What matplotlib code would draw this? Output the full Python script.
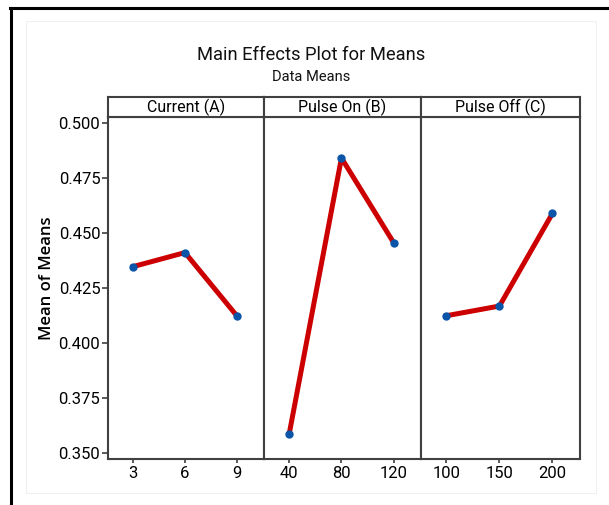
import numpy as np
import matplotlib
matplotlib.use('Agg')
import matplotlib.pyplot as plt
from matplotlib.lines import Line2D
from matplotlib.patches import Rectangle

# data
factors = ['Current (A)', 'Pulse On (B)', 'Pulse Off (C)']
current_levels = ['3', '6', '9']
current_means = [0.4347, 0.4411, 0.4123]
pulse_on_levels = ['40', '80', '120']
pulse_on_means = [0.3585, 0.4841, 0.4455]
pulse_off_levels = ['100', '150', '200']
pulse_off_means = [0.4124, 0.4168, 0.4589]
y_ticks = [0.350, 0.375, 0.400, 0.425, 0.450, 0.475, 0.500]

narrow = ['Roboto', 'DejaVu Sans']
W, H = 609, 505

fig = plt.figure(figsize=(W / 100, H / 100), dpi=100)

def fx(px):
    return px / W

def fy(py):
    return 1 - py / H

# outer frame bits
fig.add_artist(Line2D([fx(10), fx(609)], [fy(7.5), fy(7.5)], color='black', lw=2.2))
fig.add_artist(Line2D([fx(11), fx(11)], [fy(7.5), fy(505)], color='black', lw=2.2))
fig.add_artist(Rectangle((fx(26), fy(493)), fx(596) - fx(26), fy(21) - fy(493),
                         fill=False, edgecolor='#f0f0f0', lw=0.8))

fig.text(fx(311), fy(55), 'Main Effects Plot for Means', ha='center', va='center',
         fontsize=13.2, family=narrow, color='#111111')
fig.text(fx(311), fy(77), 'Data Means', ha='center', va='center',
         fontsize=10.5, family=narrow, color='#111111')

edges = [108, 264, 421, 580]
top, strip_top, bottom = 117, 97, 459
spine_col = '#404040'

levels = [current_levels, pulse_on_levels, pulse_off_levels]
means = [current_means, pulse_on_means, pulse_off_means]

for i in range(3):
    x0, x1 = edges[i], edges[i + 1]
    ax = fig.add_axes([fx(x0), fy(bottom), fx(x1 - x0), fy(top) - fy(bottom)])
    pos = np.arange(len(levels[i]))
    ax.plot(pos, means[i], color='#cc0000', lw=3.6, zorder=2)
    ax.plot(pos, means[i], 'o', color='#0a55a8', ms=5, zorder=3)
    ax.set_xlim(-0.48, 2.52)
    ax.set_ylim(0.350 - 6 / 2200, 0.500 + 6 / 2200)
    ax.set_xticks(pos)
    ax.set_xticklabels(levels[i], family=narrow, fontsize=12)
    ax.tick_params(axis='x', length=3, width=1.2, color=spine_col, pad=2)
    for s in ax.spines.values():
        s.set_color(spine_col)
        s.set_linewidth(1.5)
    if i == 0:
        ax.set_yticks(y_ticks)
        ax.set_yticklabels(['%.3f' % v for v in y_ticks], family=narrow, fontsize=12)
        ax.tick_params(axis='y', length=4, width=1.2, color=spine_col, pad=1.5)
        ax.set_ylabel('Mean of Means', family=['Open Sans', 'DejaVu Sans'], fontsize=12,
                      fontweight='semibold')
        # centred on panel + strip header, like the original
        ax.yaxis.set_label_coords(-(108 - 55) / 156, (bottom - 278) / (bottom - top))
    else:
        ax.set_yticks([])

    # strip header
    sx = fig.add_axes([fx(x0), fy(top), fx(x1 - x0), fy(strip_top) - fy(top)])
    sx.set_xticks([])
    sx.set_yticks([])
    for s in sx.spines.values():
        s.set_color(spine_col)
        s.set_linewidth(1.5)
    sx.text(0.5, 0.5, factors[i], ha='center', va='center', transform=sx.transAxes,
            fontsize=11.5, family=narrow)

fig.savefig('out.png', dpi=100)
